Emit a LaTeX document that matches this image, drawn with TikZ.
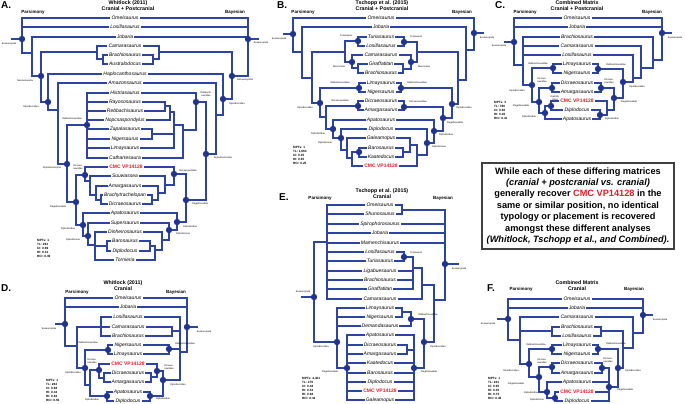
\documentclass[tikz,border=0pt]{standalone}
\usepackage{fontspec}
\setmainfont{Liberation Sans}
\definecolor{treeblue}{RGB}{46,68,162}
\definecolor{dotblue}{RGB}{32,52,142}
\definecolor{cmcred}{RGB}{226,30,38}
\tikzset{
  branch/.style={draw=treeblue, line width=1.1pt, line cap=rect},
  taxon/.style={font=\fontsize{5}{5}\selectfont\itshape, inner sep=1.5pt},
  cmc/.style={font=\fontsize{5}{5}\selectfont\bfseries, text=cmcred, inner sep=1.5pt},
  cladedot/.style={circle, fill=dotblue, inner sep=0pt, minimum size=6.4pt},
  cladename/.style={font=\fontsize{2.4}{2.7}\selectfont, inner sep=0pt, align=center},
  stats/.style={font=\fontsize{3.1}{4.1}\selectfont\bfseries, align=left, anchor=north west, inner sep=0pt},
  paneltag/.style={font=\fontsize{10}{10}\selectfont\bfseries, anchor=base west, inner sep=0pt},
  ptitle/.style={font=\fontsize{5.3}{6}\selectfont\bfseries, align=center, inner sep=0pt},
  method/.style={font=\fontsize{4.5}{4.5}\selectfont\bfseries, inner sep=0pt},
  msgbox/.style={draw=black!75, line width=1.3pt, minimum width=192pt, minimum height=86pt, align=center, inner sep=0pt, font=\fontsize{9.2}{11.4}\selectfont\bfseries}
}
\begin{document}
\begin{tikzpicture}[x=1pt,y=-1pt]
\useasboundingbox (0,0) rectangle (685,404);

%%%%% A: Whitlock, cranial + postcranial %%%%%
\node[paneltag] (a-tag) at (1,9) {A.};
\node[ptitle] (a-title) at (128,6) {Whitlock (2011)\\Cranial + Postcranial};
\node[method] (a-pars) at (33,12) {Parsimony};
\node[method] (a-bays) at (235,12) {Bayesian};
\foreach \nm/\y/\tx in {omei/18/Omeisaurus, losi/27/Losillasaurus, jobr/37/Jobaria, cama/46/Camarasaurus, brac/55/Brachiosaurus, aust/64/Australodocus, hapl/74/Haplocanthosaurus, amaz/83/Amazonsaurus, hist/93/Histriasaurus, rayo/102/Rayososaurus, rebb/111/Rebbachisaurus, nopc/120/Nopcsaspondylus, zapa/129/Zapalasaurus, nige/139/Nigersaurus, lima/148/Limaysaurus, cath/158/Cathartesaura, suuw/176/Suuwassea, amar/186/Amargasaurus, brat/195/Brachytrachelopan, dicr/204/Dicraeosaurus, apat/213/Apatosaurus, supe/223/Supersaurus, dinh/232/Dinheirosaurus, baro/241/Barosaurus, dipl/251/Diplodocus, torn/260/Tornieria}
  \node[taxon] (a-\nm) at (125,\y) {\tx};
\node[cmc] (a-cmc) at (126,167) {CMC VP14128};

\coordinate (aP-root) at (22,39);  \coordinate (aP-stem) at (12,39);
\coordinate (aP-n1) at (32,53);    \coordinate (aP-neo) at (41,76);
\coordinate (aP-cam) at (97,52);   \coordinate (aP-ba) at (103,59);
\coordinate (aP-dpd) at (48,102);  \coordinate (aP-n4) at (58,110);
\coordinate (aP-dmo) at (67,164);  \coordinate (aP-reb) at (87,125);
\coordinate (aP-flg) at (76,202);  \coordinate (aP-dic) at (85,175);
\coordinate (aP-d1) at (90,181);   \coordinate (aP-d2) at (96,195);
\coordinate (aP-d3) at (101,200);  \coordinate (aP-dip) at (83,225);
\coordinate (aP-dnn) at (88,236);  \coordinate (aP-n9) at (95,245);
\coordinate (aP-n10) at (107,246);
\foreach \ch/\pa in {a-omei.west/aP-root, a-losi.west/aP-root, aP-n1/aP-root, a-jobr.west/aP-n1, aP-neo/aP-n1, aP-cam/aP-neo, aP-dpd/aP-neo, a-cama.west/aP-cam, aP-ba/aP-cam, a-brac.west/aP-ba, a-aust.west/aP-ba, a-hapl.west/aP-dpd, aP-n4/aP-dpd, a-amaz.west/aP-n4, aP-dmo/aP-n4, aP-reb/aP-dmo, aP-flg/aP-dmo, a-hist.west/aP-reb, a-rayo.west/aP-reb, a-rebb.west/aP-reb, a-nopc.west/aP-reb, a-zapa.west/aP-reb, a-nige.west/aP-reb, a-lima.west/aP-reb, a-cath.west/aP-reb, aP-dic/aP-flg, aP-dip/aP-flg, a-cmc.west/aP-dic, aP-d1/aP-dic, a-suuw.west/aP-d1, aP-d2/aP-d1, a-amar.west/aP-d2, aP-d3/aP-d2, a-brat.west/aP-d3, a-dicr.west/aP-d3, a-apat.west/aP-dip, aP-dnn/aP-dip, a-supe.west/aP-dnn, aP-n9/aP-dnn, a-dinh.west/aP-n9, aP-n10/aP-n9, a-torn.west/aP-n9, a-baro.west/aP-n10, a-dipl.west/aP-n10, aP-root/aP-stem}
  \draw[branch] (\ch) -| (\pa);

\coordinate (aB-root) at (248,39); \coordinate (aB-stem) at (258,39);
\coordinate (aB-neo) at (232,76);  \coordinate (aB-cam) at (159,52);
\coordinate (aB-ba) at (153,59);   \coordinate (aB-dpd) at (223,99);
\coordinate (aB-q4) at (216,115);  \coordinate (aB-dmo) at (206,154);
\coordinate (aB-reb) at (196,102); \coordinate (aB-r7) at (183,130);
\coordinate (aB-r6) at (174,125);  \coordinate (aB-r4) at (170,112);
\coordinate (aB-r3) at (165,106);  \coordinate (aB-r5) at (152,134);
\coordinate (aB-flg) at (186,200); \coordinate (aB-dic) at (174,174);
\coordinate (aB-e1) at (165,185);  \coordinate (aB-e2) at (158,193);
\coordinate (aB-e3) at (152,200);  \coordinate (aB-dip) at (177,222);
\coordinate (aB-dnn) at (169,230); \coordinate (aB-f1) at (162,240);
\coordinate (aB-f2) at (155,250);  \coordinate (aB-f3) at (150,246);
\foreach \ch/\pa in {a-omei.east/aB-root, a-losi.east/aB-root, a-jobr.east/aB-root, aB-neo/aB-root, aB-cam/aB-neo, aB-dpd/aB-neo, a-cama.east/aB-cam, aB-ba/aB-cam, a-brac.east/aB-ba, a-aust.east/aB-ba, a-hapl.east/aB-dpd, aB-q4/aB-dpd, a-amaz.east/aB-q4, aB-dmo/aB-q4, aB-reb/aB-dmo, aB-flg/aB-dmo, a-hist.east/aB-reb, aB-r7/aB-reb, aB-r6/aB-r7, a-cath.east/aB-r7, aB-r4/aB-r6, aB-r5/aB-r6, a-lima.east/aB-r6, aB-r3/aB-r4, a-nopc.east/aB-r4, a-rayo.east/aB-r3, a-rebb.east/aB-r3, a-zapa.east/aB-r5, a-nige.east/aB-r5, aB-dic/aB-flg, aB-dip/aB-flg, a-cmc.east/aB-dic, aB-e1/aB-dic, a-suuw.east/aB-e1, aB-e2/aB-e1, a-amar.east/aB-e2, aB-e3/aB-e2, a-brat.east/aB-e3, a-dicr.east/aB-e3, a-apat.east/aB-dip, aB-dnn/aB-dip, a-supe.east/aB-dnn, aB-f1/aB-dnn, a-dinh.east/aB-f1, aB-f2/aB-f1, aB-f3/aB-f2, a-torn.east/aB-f2, a-baro.east/aB-f3, a-dipl.east/aB-f3, aB-root/aB-stem}
  \draw[branch] (\ch) -| (\pa);

\node[cladename] (aP-root-l) at (9,44) {Eusauropoda};
\node[cladename] (aP-neo-l) at (25,81) {Neosauropoda};
\node[cladename] (aP-dpd-l) at (31,107) {Diplodocoidea};
\node[cladename] (aP-reb-l) at (72,119) {Rebbachisauridae};
\node[cladename] (aP-dmo-l) at (52,168) {Diplodocimorpha};
\node[cladename] (aP-dic-l) at (78,167) {Dicraeo-\\sauridae};
\node[cladename] (aP-flg-l) at (58,207) {Flagellicaudata};
\node[cladename] (aP-dip-l) at (68,229) {Diplodocidae};
\node[cladename] (aP-dnn-l) at (73,240) {Diplodocinae};
\node[cladename] (aB-root-l) at (261,43) {Eusauropoda};
\node[cladename] (aB-neo-l) at (245,80) {Neosauropoda};
\node[cladename] (aB-dpd-l) at (237,104) {Diplodocoidea};
\node[cladename] (aB-reb-l) at (206,94) {Rebbachi-\\sauridae};
\node[cladename] (aB-dmo-l) at (223,158) {Diplodocimorpha};
\node[cladename] (aB-dic-l) at (188,171) {Dicraeosauridae};
\node[cladename] (aB-flg-l) at (200,204) {Flagellicaudata};
\node[cladename] (aB-dip-l) at (190,227) {Diplodocidae};
\node[cladename] (aB-dnn-l) at (183,234) {Diplodocinae};
\node[stats] (a-stats) at (37,239) {MPTs: 1\\TL: 293\\CI: 0.69\\HI: 0.31\\RCI: 0.39};

%%%%% B: Tschopp, cranial + postcranial %%%%%
\node[paneltag] (b-tag) at (277,9) {B.};
\node[ptitle] (b-title) at (382,6) {Tschopp et al. (2015)\\Cranial + Postcranial};
\node[method] (b-pars) at (303,12) {Parsimony};
\node[method] (b-bays) at (462,12) {Bayesian};
\foreach \nm/\y/\tx in {omei/18/Omeisaurus, jobr/27/Jobaria, turi/37/Turiasaurus, losi/46/Losillasaurus, cama/55/Camarasaurus, gira/64/Giraffatitan, brac/73/Brachiosaurus, lima/83/Limaysaurus, nige/92/Nigersaurus, dicr/101/Dicraeosaurus, amar/110/Amargasaurus, apat/120/Apatosaurus, dipl/129/Diplodocus, gale/138/Galeamopus, baro/148/Barosaurus, kaat/157/Kaatedocus}
  \node[taxon] (b-\nm) at (381,\y) {\tx};
\node[cmc] (b-cmc) at (381,166) {CMC VP14128};

\coordinate (bP-root) at (293,34); \coordinate (bP-stem) at (284,34);
\coordinate (bP-n1) at (302,52);   \coordinate (bP-n2) at (312,78);
\coordinate (bP-a) at (345,52);    \coordinate (bP-tur) at (358,41);
\coordinate (bP-mac) at (352,62);  \coordinate (bP-tif) at (358,68);
\coordinate (bP-dpd) at (320,103); \coordinate (bP-reb) at (359,88);
\coordinate (bP-flg) at (326,117); \coordinate (bP-dic) at (358,106);
\coordinate (bP-dip) at (333,129); \coordinate (bP-dnn) at (341,138);
\coordinate (bP-g1) at (347,150);  \coordinate (bP-g2) at (352,158);
\coordinate (bP-bk) at (359,152);
\foreach \ch/\pa in {b-omei.west/bP-root, bP-n1/bP-root, b-jobr.west/bP-n1, bP-n2/bP-n1, bP-a/bP-n2, bP-dpd/bP-n2, bP-tur/bP-a, bP-mac/bP-a, b-turi.west/bP-tur, b-losi.west/bP-tur, b-cama.west/bP-mac, bP-tif/bP-mac, b-gira.west/bP-tif, b-brac.west/bP-tif, bP-reb/bP-dpd, bP-flg/bP-dpd, b-lima.west/bP-reb, b-nige.west/bP-reb, bP-dic/bP-flg, bP-dip/bP-flg, b-dicr.west/bP-dic, b-amar.west/bP-dic, b-apat.west/bP-dip, bP-dnn/bP-dip, b-dipl.west/bP-dnn, bP-g1/bP-dnn, b-gale.west/bP-g1, bP-g2/bP-g1, bP-bk/bP-g2, b-cmc.west/bP-g2, b-baro.west/bP-bk, b-kaat.west/bP-bk, bP-root/bP-stem}
  \draw[branch] (\ch) -| (\pa);

\coordinate (bB-root) at (474,33); \coordinate (bB-stem) at (483,33);
\coordinate (bB-x1) at (466,50);   \coordinate (bB-x2) at (458,80);
\coordinate (bB-a) at (417,52);    \coordinate (bB-tur) at (404,42);
\coordinate (bB-mac) at (411,62);  \coordinate (bB-tif) at (403,69);
\coordinate (bB-dpd) at (452,104); \coordinate (bB-reb) at (401,88);
\coordinate (bB-flg) at (443,118); \coordinate (bB-dic) at (404,107);
\coordinate (bB-dip) at (434,131); \coordinate (bB-dnn) at (427,143);
\coordinate (bB-h1) at (417,155);  \coordinate (bB-h2) at (410,145);
\coordinate (bB-h3) at (403,152);
\foreach \ch/\pa in {b-omei.east/bB-root, bB-x1/bB-root, b-jobr.east/bB-x1, bB-x2/bB-x1, bB-a/bB-x2, bB-dpd/bB-x2, bB-tur/bB-a, bB-mac/bB-a, b-turi.east/bB-tur, b-losi.east/bB-tur, b-cama.east/bB-mac, bB-tif/bB-mac, b-gira.east/bB-tif, b-brac.east/bB-tif, bB-reb/bB-dpd, bB-flg/bB-dpd, b-lima.east/bB-reb, b-nige.east/bB-reb, bB-dic/bB-flg, bB-dip/bB-flg, b-dicr.east/bB-dic, b-amar.east/bB-dic, b-apat.east/bB-dip, bB-dnn/bB-dip, b-dipl.east/bB-dnn, bB-h1/bB-dnn, bB-h2/bB-h1, b-cmc.east/bB-h1, b-gale.east/bB-h2, bB-h3/bB-h2, b-baro.east/bB-h3, b-kaat.east/bB-h3, bB-root/bB-stem}
  \draw[branch] (\ch) -| (\pa);

\node[cladename] (bP-root-l) at (279,39) {Eusauropoda};
\node[cladename] (bP-tur-l) at (346,36) {Turiasauria};
\node[cladename] (bP-mac-l) at (339,67) {Macronaria};
\node[cladename] (bP-dpd-l) at (305,108) {Diplodocoidea};
\node[cladename] (bP-reb-l) at (340,83) {Rebbachisauridae};
\node[cladename] (bP-dic-l) at (340,101) {Dicraeosauridae};
\node[cladename] (bP-dip-l) at (318,134) {Diplodocidae};
\node[cladename] (bP-dnn-l) at (325,143) {Diplodocinae};
\node[cladename] (bB-root-l) at (487,38) {Eusauropoda};
\node[cladename] (bB-tur-l) at (416,37) {Turiasauria};
\node[cladename] (bB-mac-l) at (424,67) {Macronaria};
\node[cladename] (bB-dpd-l) at (464,108) {Diplodocoidea};
\node[cladename] (bB-reb-l) at (417,83) {Rebbachisauridae};
\node[cladename] (bB-dic-l) at (418,102) {Dicraeosauridae};
\node[cladename] (bB-flg-l) at (455,123) {Flagellicaudata};
\node[cladename] (bB-dip-l) at (446,135) {Diplodocidae};
\node[cladename] (bB-dnn-l) at (439,147) {Diplodocinae};
\node[stats] (b-stats) at (293,146) {MPTs: 1\\TL: 1,664\\CI: 0.35\\HI: 0.65\\RCI: 0.25};

%%%%% C: combined, cranial + postcranial %%%%%
\node[paneltag] (c-tag) at (495,9) {C.};
\node[ptitle] (c-title) at (577,6) {Combined Matrix\\Cranial + Postcranial};
\node[method] (c-pars) at (525,12) {Parsimony};
\node[method] (c-bays) at (652,12) {Bayesian};
\foreach \nm/\y/\tx in {omei/18/Omeisaurus, jobr/27/Jobaria, brac/37/Brachiosaurus, cama/46/Camarasaurus, losi/55/Losillasaurus, lima/64/Limaysaurus, nige/73/Nigersaurus, dicr/83/Dicraeosaurus, amar/92/Amargasaurus, dipl/110/Diplodocus, apat/119/Apatosaurus}
  \node[taxon] (c-\nm) at (577,\y) {\tx};
\node[cmc] (c-cmc) at (577,101) {CMC VP14128};

\coordinate (cP-root) at (514,42); \coordinate (cP-stem) at (505,42);
\coordinate (cP-n1) at (523,65);   \coordinate (cP-dpd) at (532,85);
\coordinate (cP-reb) at (553,68);  \coordinate (cP-flg) at (539,102);
\coordinate (cP-dic) at (552,88);  \coordinate (cP-dip) at (545,113);
\coordinate (cP-dnn) at (551,106);
\foreach \ch/\pa in {c-omei.west/cP-root, c-jobr.west/cP-root, cP-n1/cP-root, c-brac.west/cP-n1, c-cama.west/cP-n1, c-losi.west/cP-n1, cP-dpd/cP-n1, cP-reb/cP-dpd, cP-flg/cP-dpd, c-lima.west/cP-reb, c-nige.west/cP-reb, cP-dic/cP-flg, cP-dip/cP-flg, c-dicr.west/cP-dic, c-amar.west/cP-dic, cP-dnn/cP-dip, c-apat.west/cP-dip, c-cmc.west/cP-dnn, c-dipl.west/cP-dnn, cP-root/cP-stem}
  \draw[branch] (\ch) -| (\pa);

\coordinate (cB-root) at (662,33); \coordinate (cB-stem) at (671,33);
\coordinate (cB-q1) at (653,60);   \coordinate (cB-q2) at (641,68);
\coordinate (cB-q3) at (633,78);   \coordinate (cB-dpd) at (623,82);
\coordinate (cB-reb) at (598,69);  \coordinate (cB-flg) at (614,98);
\coordinate (cB-dic) at (601,88);  \coordinate (cB-k) at (607,110);
\coordinate (cB-dip) at (600,115);
\foreach \ch/\pa in {c-omei.east/cB-root, c-jobr.east/cB-root, cB-q1/cB-root, c-brac.east/cB-q1, cB-q2/cB-q1, c-cama.east/cB-q2, cB-q3/cB-q2, c-losi.east/cB-q3, cB-dpd/cB-q3, cB-reb/cB-dpd, cB-flg/cB-dpd, c-lima.east/cB-reb, c-nige.east/cB-reb, cB-dic/cB-flg, cB-k/cB-flg, c-dicr.east/cB-dic, c-amar.east/cB-dic, c-cmc.east/cB-k, cB-dip/cB-k, c-dipl.east/cB-dip, c-apat.east/cB-dip, cB-root/cB-stem}
  \draw[branch] (\ch) -| (\pa);

\node[cladename] (cP-root-l) at (499,46) {Eusauropoda};
\node[cladename] (cP-dpd-l) at (517,91) {Diplodocoidea};
\node[cladename] (cP-reb-l) at (538,64) {Rebbachisauridae};
\node[cladename] (cP-dic-l) at (542,80) {Dicraeo-\\sauridae};
\node[cladename] (cP-flg-l) at (521,106) {Flagellicaudata};
\node[cladename] (cP-dip-l) at (529,117) {Diplodocidae};
\node[cladename] (cP-dnn-l) at (555,98) {Diplodo-\\cinae};
\node[cladename] (cB-root-l) at (675,38) {Eusauropoda};
\node[cladename] (cB-dpd-l) at (637,87) {Diplodocoidea};
\node[cladename] (cB-reb-l) at (616,65) {Rebbachisauridae};
\node[cladename] (cB-dic-l) at (609,81) {Dicraeo-\\sauridae};
\node[cladename] (cB-flg-l) at (629,102) {Flagellicaudata};
\node[cladename] (cB-dip-l) at (612,119) {Diplodocidae};
\node[stats] (c-stats) at (494,101) {MPTs: 3\\TL: 786\\CI: 0.60\\HI: 0.40\\RCI: 0.41};

%%%%% note %%%%%
\node[msgbox] (note) at (578,206) {While each of these differing matrices\\
{\itshape(cranial + postcranial vs. cranial)}\\
generally recover \textcolor{cmcred}{CMC VP14128} in the\\
same or similar position, no identical\\
typology or placement is recovered\\
amongst these different analyses\\
{\itshape(Whitlock, Tschopp et al., and Combined).}};

%%%%% D: Whitlock, cranial %%%%%
\node[paneltag] (d-tag) at (1,291) {D.};
\node[ptitle] (d-title) at (123,285.5) {Whitlock (2011)\\Cranial};
\node[method] (d-pars) at (77,292) {Parsimony};
\node[method] (d-bays) at (176,292) {Bayesian};
\foreach \nm/\y/\tx in {omei/298/Omeisaurus, jobr/307/Jobaria, losi/317/Losillasaurus, cama/327/Camarasaurus, brac/336/Brachiosaurus, nige/345/Nigersaurus, lima/354/Limaysaurus, dicr/373/Dicraeosaurus, amar/382/Amargasaurus, apat/392/Apatosaurus, dipl/401/Diplodocus}
  \node[taxon] (d-\nm) at (128,\y) {\tx};
\node[cmc] (d-cmc) at (128,364) {CMC VP14128};

\coordinate (dP-root) at (65,324); \coordinate (dP-stem) at (56,324);
\coordinate (dP-n1) at (77,346);   \coordinate (dP-lcb) at (101,327);
\coordinate (dP-dpd) at (85,368);  \coordinate (dP-reb) at (108,350);
\coordinate (dP-flg) at (90,385);  \coordinate (dP-dic) at (99,370);
\coordinate (dP-d1) at (104,378);  \coordinate (dP-dip) at (107,396);
\foreach \ch/\pa in {d-omei.west/dP-root, d-jobr.west/dP-root, dP-n1/dP-root, dP-lcb/dP-n1, dP-dpd/dP-n1, d-losi.west/dP-lcb, d-cama.west/dP-lcb, d-brac.west/dP-lcb, dP-reb/dP-dpd, dP-flg/dP-dpd, d-nige.west/dP-reb, d-lima.west/dP-reb, dP-dic/dP-flg, dP-dip/dP-flg, d-cmc.west/dP-dic, dP-d1/dP-dic, d-dicr.west/dP-d1, d-amar.west/dP-d1, d-apat.west/dP-dip, d-dipl.west/dP-dip, dP-root/dP-stem}
  \draw[branch] (\ch) -| (\pa);

\coordinate (dB-root) at (187,327); \coordinate (dB-stem) at (197,327);
\coordinate (dB-q1) at (180,352);   \coordinate (dB-cb) at (172,331);
\coordinate (dB-reb) at (169,349);  \coordinate (dB-dpd) at (163,380);
\coordinate (dB-dic) at (157,371);  \coordinate (dB-e1) at (151,377);
\coordinate (dB-dip) at (150,396);
\foreach \ch/\pa in {d-omei.east/dB-root, d-jobr.east/dB-root, dB-q1/dB-root, d-losi.east/dB-q1, dB-cb/dB-q1, dB-reb/dB-q1, dB-dpd/dB-q1, d-cama.east/dB-cb, d-brac.east/dB-cb, d-nige.east/dB-reb, d-lima.east/dB-reb, dB-dic/dB-dpd, dB-dip/dB-dpd, d-cmc.east/dB-dic, dB-e1/dB-dic, d-dicr.east/dB-e1, d-amar.east/dB-e1, d-apat.east/dB-dip, d-dipl.east/dB-dip, dB-root/dB-stem}
  \draw[branch] (\ch) -| (\pa);

\node[cladename] (dP-root-l) at (49,329) {Eusauropoda};
\node[cladename] (dP-reb-l) at (88,343) {Rebbachisauridae};
\node[cladename] (dP-dpd-l) at (73,373) {Diplodocoidea};
\node[cladename] (dP-dic-l) at (92,361) {Dicraeo-\\sauridae};
\node[cladename] (dP-dip-l) at (92,400) {Diplodocidae};
\node[cladename] (dB-root-l) at (204,332) {Eusauropoda};
\node[cladename] (dB-reb-l) at (185,344) {Rebbachisauridae};
\node[cladename] (dB-dic-l) at (169,367) {Dicraeo-\\sauridae};
\node[cladename] (dB-dpd-l) at (178,385) {Diplodocoidea};
\node[cladename] (dB-dip-l) at (163,399) {Diplodocidae};
\node[stats] (d-stats) at (46,379) {MPTs: 1\\TL: 284\\CI: 0.68\\HI: 0.32\\RI: 0.82\\RCI: 0.56};

%%%%% E: Tschopp, cranial %%%%%
\node[paneltag] (e-tag) at (279,200) {E.};
\node[ptitle] (e-title) at (382,193.5) {Tschopp et al. (2015)\\Cranial};
\node[method] (e-pars) at (320,198) {Parsimony};
\node[method] (e-bays) at (443,198) {Bayesian};
\foreach \nm/\y/\tx in {omei/205/Omeisaurus, shun/214/Shunosaurus, spir/224/Spirophorosaurus, jobr/233/Jobaria, mame/243/Mamenchisaurus, losi/252/Losillasaurus, turi/261/Turiasaurus, liga/271/Ligabuesaurus, brac/280/Brachiosaurus, gira/289/Giraffatitan, cama/299/Camarasaurus, lima/308/Limaysaurus, nige/317/Nigersaurus, dema/326/Demandasaurus, apat/335/Apatosaurus, dicr/345/Dicraeosaurus, amar/354/Amargasaurus, kaat/363/Kaatedocus, baro/373/Barosaurus, dipl/382/Diplodocus, gale/400/Galeamopus}
  \node[taxon] (e-\nm) at (380,\y) {\tx};
\node[cmc] (e-cmc) at (380,391) {CMC VP14128};

\coordinate (eP-root) at (314,297); \coordinate (eP-stem) at (302,297);
\coordinate (eP-n1) at (327,242);   \coordinate (eP-dpd) at (337,342);
\coordinate (eP-flg) at (347,368);
\foreach \ch/\pa in {eP-n1/eP-root, eP-dpd/eP-root, e-omei.west/eP-n1, e-shun.west/eP-n1, e-spir.west/eP-n1, e-jobr.west/eP-n1, e-mame.west/eP-n1, e-losi.west/eP-n1, e-turi.west/eP-n1, e-liga.west/eP-n1, e-brac.west/eP-n1, e-gira.west/eP-n1, e-cama.west/eP-n1, e-lima.west/eP-dpd, e-nige.west/eP-dpd, e-dema.west/eP-dpd, eP-flg/eP-dpd, e-apat.west/eP-flg, e-dicr.west/eP-flg, e-amar.west/eP-flg, e-kaat.west/eP-flg, e-baro.west/eP-flg, e-dipl.west/eP-flg, e-cmc.west/eP-flg, e-gale.west/eP-flg, eP-root/eP-stem}
  \draw[branch] (\ch) -| (\pa);

\coordinate (eB-root) at (445,264); \coordinate (eB-stem) at (458,264);
\coordinate (eB-os) at (402,210);   \coordinate (eB-m) at (434,300);
\coordinate (eB-mac) at (422,285);  \coordinate (eB-k) at (413,268);
\coordinate (eB-tur) at (404,257);  \coordinate (eB-dpd) at (424,342);
\coordinate (eB-reb) at (411,319);  \coordinate (eB-rn) at (402,312);
\coordinate (eB-flg) at (414,368);  \coordinate (eB-da) at (407,350);
\foreach \ch/\pa in {eB-os/eB-root, e-spir.east/eB-root, e-jobr.east/eB-root, e-mame.east/eB-root, eB-m/eB-root, e-omei.east/eB-os, e-shun.east/eB-os, eB-mac/eB-m, eB-dpd/eB-m, eB-k/eB-mac, e-cama.east/eB-mac, eB-tur/eB-k, e-liga.east/eB-k, e-brac.east/eB-k, e-gira.east/eB-k, e-losi.east/eB-tur, e-turi.east/eB-tur, eB-reb/eB-dpd, eB-flg/eB-dpd, eB-rn/eB-reb, e-dema.east/eB-reb, e-lima.east/eB-rn, e-nige.east/eB-rn, e-apat.east/eB-flg, eB-da/eB-flg, e-kaat.east/eB-flg, e-baro.east/eB-flg, e-dipl.east/eB-flg, e-cmc.east/eB-flg, e-gale.east/eB-flg, e-dicr.east/eB-da, e-amar.east/eB-da, eB-root/eB-stem}
  \draw[branch] (\ch) -| (\pa);

\node[cladename] (eP-root-l) at (303,292) {Eusauropoda};
\node[cladename] (eP-dpd-l) at (321,347) {Diplodocoidea};
\node[cladename] (eP-flg-l) at (330,372) {Flagellicaudata};
\node[cladename] (eB-root-l) at (459,269) {Eusauropoda};
\node[cladename] (eB-tur-l) at (416,253) {Turiasauria};
\node[cladename] (eB-reb-l) at (428,315) {Rebbachisauridae};
\node[cladename] (eB-dpd-l) at (438,347) {Diplodocoidea};
\node[cladename] (eB-flg-l) at (429,372) {Flagellicaudata};
\node[stats] (e-stats) at (302,377) {MPTs: 4,401\\TL: 279\\CI: 0.48\\HI: 0.52\\RI: 0.68\\RCI: 0.34};

%%%%% F: combined, cranial %%%%%
\node[paneltag] (f-tag) at (487,291) {F.};
\node[ptitle] (f-title) at (577,285.5) {Combined Matrix\\Cranial};
\node[method] (f-pars) at (521,289) {Parsimony};
\node[method] (f-bays) at (634,289) {Bayesian};
\foreach \nm/\y/\tx in {omei/299/Omeisaurus, jobr/308/Jobaria, cama/317/Camarasaurus, brac/327/Brachiosaurus, losi/336/Losillasaurus, lima/345/Limaysaurus, nige/354/Nigersaurus, dicr/363/Dicraeosaurus, amar/373/Amargasaurus, apat/382/Apatosaurus, dipl/401/Diplodocus}
  \node[taxon] (f-\nm) at (577,\y) {\tx};
\node[cmc] (f-cmc) at (577,392) {CMC VP14128};

\coordinate (fP-root) at (508,319); \coordinate (fP-stem) at (498,319);
\coordinate (fP-n1) at (520,340);   \coordinate (fP-bl) at (552,331);
\coordinate (fP-dpd) at (529,364);  \coordinate (fP-reb) at (552,349);
\coordinate (fP-flg) at (539,377);  \coordinate (fP-dic) at (552,367);
\coordinate (fP-dip) at (547,392);  \coordinate (fP-dnn) at (555,398);
\foreach \ch/\pa in {f-omei.west/fP-root, f-jobr.west/fP-root, fP-n1/fP-root, f-cama.west/fP-n1, fP-bl/fP-n1, fP-dpd/fP-n1, f-brac.west/fP-bl, f-losi.west/fP-bl, fP-reb/fP-dpd, fP-flg/fP-dpd, f-lima.west/fP-reb, f-nige.west/fP-reb, fP-dic/fP-flg, fP-dip/fP-flg, f-dicr.west/fP-dic, f-amar.west/fP-dic, f-apat.west/fP-dip, fP-dnn/fP-dip, f-cmc.west/fP-dnn, f-dipl.west/fP-dnn, fP-root/fP-stem}
  \draw[branch] (\ch) -| (\pa);

\coordinate (fB-root) at (643,315); \coordinate (fB-stem) at (652,315);
\coordinate (fB-q1) at (633,333);   \coordinate (fB-q2) at (623,348);
\coordinate (fB-bl) at (601,331);   \coordinate (fB-dpd) at (618,368);
\coordinate (fB-reb) at (598,349);  \coordinate (fB-flg) at (609,387);
\coordinate (fB-dic) at (602,368);
\foreach \ch/\pa in {f-omei.east/fB-root, f-jobr.east/fB-root, fB-q1/fB-root, f-cama.east/fB-q1, fB-q2/fB-q1, fB-bl/fB-q2, fB-dpd/fB-q2, f-brac.east/fB-bl, f-losi.east/fB-bl, fB-reb/fB-dpd, fB-flg/fB-dpd, f-lima.east/fB-reb, f-nige.east/fB-reb, fB-dic/fB-flg, f-apat.east/fB-flg, f-cmc.east/fB-flg, f-dipl.east/fB-flg, f-dicr.east/fB-dic, f-amar.east/fB-dic, fB-root/fB-stem}
  \draw[branch] (\ch) -| (\pa);

\node[cladename] (fP-root-l) at (488,324) {Eusauropoda};
\node[cladename] (fP-reb-l) at (536,345) {Rebbachisauridae};
\node[cladename] (fP-dic-l) at (542,361) {Dicraeo-\\sauridae};
\node[cladename] (fP-dpd-l) at (511,371) {Diplodocoidea};
\node[cladename] (fP-flg-l) at (516,384) {Flagellicaudata};
\node[cladename] (fP-dip-l) at (531,393) {Diplodocidae};
\node[cladename] (fP-dnn-l) at (537,400) {Diplodocinae};
\node[cladename] (fB-root-l) at (660,320) {Eusauropoda};
\node[cladename] (fB-reb-l) at (616,344) {Rebbachisauridae};
\node[cladename] (fB-dic-l) at (608,360) {Dicraeo-\\sauridae};
\node[cladename] (fB-dpd-l) at (633,371) {Diplodocoidea};
\node[cladename] (fB-flg-l) at (625,390) {Flagellicaudata};
\node[stats] (f-stats) at (488,377) {MPTs: 1\\TL: 241\\CI: 0.65\\HI: 0.35\\RI: 0.70\\RCI: 0.46};

%%%%% clade dots %%%%%
\foreach \d in {aP-root, aP-neo, aP-dpd, aP-reb, aP-dmo, aP-flg, aP-dic, aP-dip, aP-dnn, aB-root, aB-neo, aB-dpd, aB-reb, aB-dmo, aB-flg, aB-dic, aB-dip, aB-dnn, bP-root, bP-tur, bP-mac, bP-dpd, bP-reb, bP-dic, bP-dip, bP-dnn, bP-bk, bB-root, bB-tur, bB-mac, bB-dpd, bB-reb, bB-flg, bB-dic, bB-dip, bB-dnn, cP-root, cP-dpd, cP-reb, cP-flg, cP-dic, cP-dip, cP-dnn, cB-root, cB-dpd, cB-reb, cB-flg, cB-dic, cB-dip, dP-root, dP-dpd, dP-reb, dP-dic, dP-dip, dB-root, dB-reb, dB-dpd, dB-dic, dB-dip, eP-root, eP-dpd, eP-flg, eB-root, eB-tur, eB-reb, eB-dpd, eB-flg, fP-root, fP-dpd, fP-reb, fP-flg, fP-dic, fP-dip, fP-dnn, fB-root, fB-dpd, fB-reb, fB-flg, fB-dic}
  \node[cladedot] (\d-dot) at (\d) {};
\end{tikzpicture}
\end{document}
